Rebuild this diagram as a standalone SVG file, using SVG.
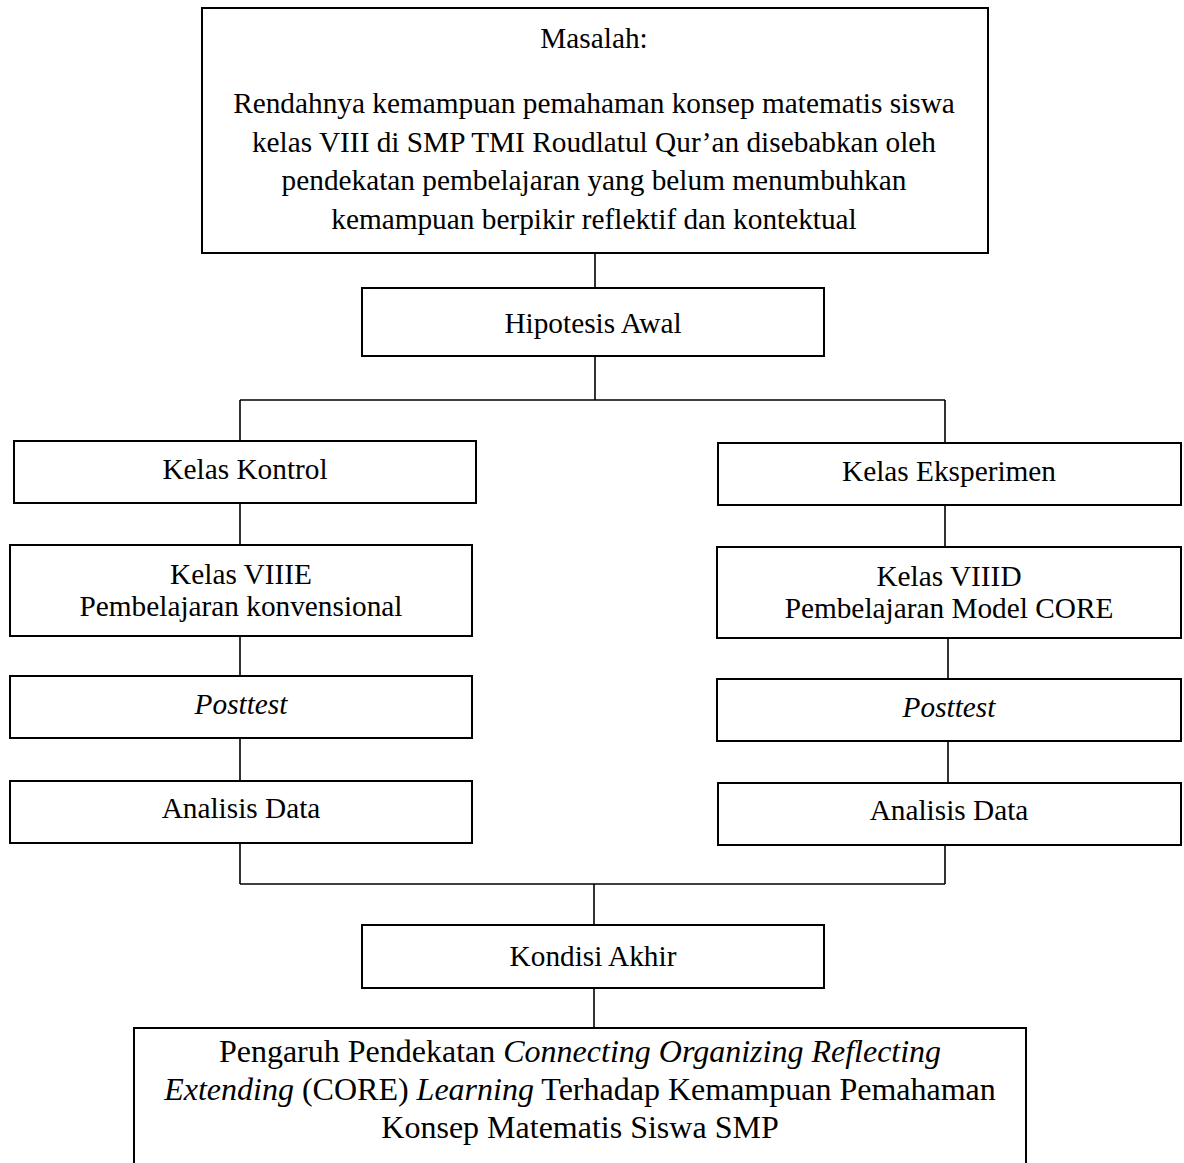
<svg xmlns="http://www.w3.org/2000/svg" width="1184" height="1163" viewBox="0 0 1184 1163">
<style>
.box{fill:#fff;stroke:#000;stroke-width:2}
.ln{fill:none;stroke:#000;stroke-width:1.6}
text{font-family:"Liberation Serif","Times New Roman",serif;font-size:29.3px;fill:#000;text-anchor:middle}
.big{font-size:32px}
.i{font-style:italic}
</style>
<rect width="1184" height="1163" fill="#fff"/>
<g id="connectors">
<path class="ln" d="M595 253V288M595 356V400M240 400H945M240 400V441M945 400V443M240 503V545M945 505V547M240 636V676M948 638V679M240 738V781M948 741V783M240 843V884M945 845V884M240 884H945M594 884V925M594 988V1028"/>
</g>
<g id="masalah">
<rect class="box" x="202" y="8" width="786" height="245"/>
<text x="594" y="48">Masalah:</text>
<text x="594" y="113">Rendahnya kemampuan pemahaman konsep matematis siswa</text>
<text x="594" y="152">kelas VIII di SMP TMI Roudlatul Qur’an disebabkan oleh</text>
<text x="594" y="190">pendekatan pembelajaran yang belum menumbuhkan</text>
<text x="594" y="229">kemampuan berpikir reflektif dan kontektual</text>
</g>
<g id="hipotesis">
<rect class="box" x="362" y="288" width="462" height="68"/>
<text x="593" y="333">Hipotesis Awal</text>
</g>
<g id="kontrol">
<rect class="box" x="14" y="441" width="462" height="62"/>
<text x="245" y="479">Kelas Kontrol</text>
</g>
<g id="eksperimen">
<rect class="box" x="718" y="443" width="463" height="62"/>
<text x="949" y="481">Kelas Eksperimen</text>
</g>
<g id="viiie">
<rect class="box" x="10" y="545" width="462" height="91"/>
<text x="241" y="584">Kelas VIIIE</text>
<text x="241" y="616">Pembelajaran konvensional</text>
</g>
<g id="viiid">
<rect class="box" x="717" y="547" width="464" height="91"/>
<text x="949" y="586">Kelas VIIID</text>
<text x="949" y="618">Pembelajaran Model CORE</text>
</g>
<g id="posttest-kontrol">
<rect class="box" x="10" y="676" width="462" height="62"/>
<text class="i" x="241" y="714">Posttest</text>
</g>
<g id="posttest-eksperimen">
<rect class="box" x="717" y="679" width="464" height="62"/>
<text class="i" x="949" y="717">Posttest</text>
</g>
<g id="analisis-kontrol">
<rect class="box" x="10" y="781" width="462" height="62"/>
<text x="241" y="818">Analisis Data</text>
</g>
<g id="analisis-eksperimen">
<rect class="box" x="718" y="783" width="463" height="62"/>
<text x="949" y="820">Analisis Data</text>
</g>
<g id="kondisi">
<rect class="box" x="362" y="925" width="462" height="63"/>
<text x="593" y="966">Kondisi Akhir</text>
</g>
<g id="pengaruh">
<rect class="box" x="134" y="1028" width="892" height="150"/>
<text class="big" x="580" y="1062">Pengaruh Pendekatan <tspan class="i">Connecting Organizing Reflecting</tspan></text>
<text class="big" x="580" y="1100"><tspan class="i">Extending</tspan> (CORE) <tspan class="i">Learning</tspan> Terhadap Kemampuan Pemahaman</text>
<text class="big" x="580" y="1138">Konsep Matematis Siswa SMP</text>
</g>
</svg>
